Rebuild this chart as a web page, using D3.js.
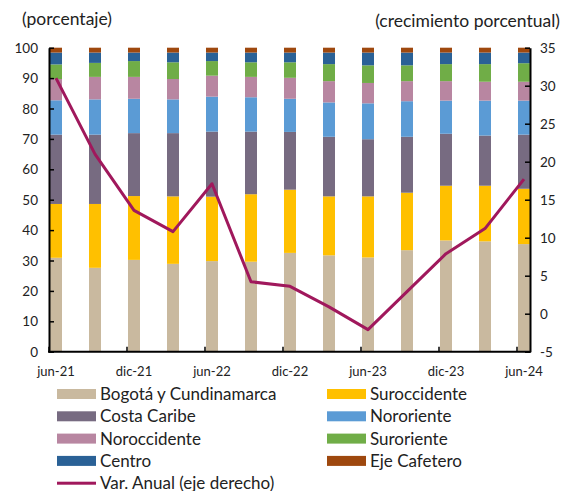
<!DOCTYPE html>
<html>
<head>
<meta charset="utf-8">
<script src="https://cdn.jsdelivr.net/npm/d3@7"></script>
<style>
  body { margin: 0; background: #fff; }
  text { font-family: Lato, "Open Sans", sans-serif; fill: #222; }
</style>
</head>
<body>
<div id="chart"></div>
<script>
var periodos = ["jun-21","sep-21","dic-21","mar-22","jun-22","sep-22","dic-22","mar-23","jun-23","sep-23","dic-23","mar-24","jun-24"];
var etiquetas = ["jun-21","","dic-21","","jun-22","","dic-22","","jun-23","","dic-23","","jun-24"];

var bogota       = [30.9, 27.6, 30.2, 28.9, 29.8, 29.6, 32.5, 31.7, 31.0, 33.4, 36.6, 36.3, 35.4];
var suroccidente = [17.7, 21.0, 21.0, 22.2, 21.2, 22.2, 20.8, 19.4, 20.1, 18.9, 18.0, 18.3, 18.2];
var costaCaribe  = [22.8, 22.8, 20.7, 20.8, 21.4, 20.6, 19.0, 19.6, 18.8, 18.4, 17.1, 16.5, 17.8];
var nororiente   = [11.3, 11.6, 11.3, 11.1, 11.5, 11.3, 10.9, 11.3, 11.8, 11.7, 10.9, 11.5, 11.2];
var noroccidente = [7.0, 7.4, 7.2, 6.7, 6.9, 6.7, 6.9, 7.0, 6.7, 6.6, 6.4, 6.2, 6.2];
var suroriente   = [4.8, 4.6, 5.2, 5.5, 4.8, 4.8, 5.1, 5.6, 5.8, 5.2, 5.6, 5.8, 6.1];
var centro       = [3.9, 3.4, 2.8, 3.2, 2.8, 3.2, 3.2, 3.8, 4.2, 4.2, 3.8, 3.8, 3.5];
var ejeCafetero  = [1.6, 1.6, 1.6, 1.6, 1.6, 1.6, 1.6, 1.6, 1.6, 1.6, 1.6, 1.6, 1.6];
var varAnual     = [31.0, 21.0, 13.6, 10.8, 17.1, 4.2, 3.6, 0.9, -2.1, 2.9, 7.9, 11.2, 17.7];

var ticksIzq = [0,10,20,30,40,50,60,70,80,90,100];
var ticksDer = [-5,0,5,10,15,20,25,30,35];

var series = [
  {nombre:"Bogotá y Cundinamarca", valores:bogota, color:"#c9b99f"},
  {nombre:"Suroccidente", valores:suroccidente, color:"#ffc000"},
  {nombre:"Costa Caribe", valores:costaCaribe, color:"#776b81"},
  {nombre:"Nororiente", valores:nororiente, color:"#5b9bd5"},
  {nombre:"Noroccidente", valores:noroccidente, color:"#b886a1"},
  {nombre:"Suroriente", valores:suroriente, color:"#70ad47"},
  {nombre:"Centro", valores:centro, color:"#2a6196"},
  {nombre:"Eje Cafetero", valores:ejeCafetero, color:"#9e480e"}
];
var colorLinea = "#a0185c";

var width = 564, height = 491;
var mLeft = 49, mRight = 530, mTop = 47.7, mBottom = 351.7;
var barW = 12;

var svg = d3.select("#chart").append("svg")
  .attr("width", width).attr("height", height);

var x = d3.scalePoint().domain(periodos).range([mLeft + 7, mRight - 6]);
var yL = d3.scaleLinear().domain([0,100]).range([mBottom, mTop]);
var yR = d3.scaleLinear().domain([-5,35]).range([mBottom, mTop]);

// tabla para el stack
var tabla = periodos.map(function(p,i){
  var fila = {periodo:p};
  series.forEach(function(s){ fila[s.nombre] = s.valores[i]; });
  return fila;
});
var stack = d3.stack().keys(series.map(function(s){return s.nombre;}))(tabla);

svg.append("g").selectAll("g")
  .data(stack).enter().append("g")
  .attr("fill", function(d,i){ return series[i].color; })
  .selectAll("rect")
  .data(function(d){ return d; })
  .enter().append("rect")
  .attr("x", function(d){ return x(d.data.periodo) - barW/2; })
  .attr("width", barW)
  .attr("y", function(d){ return yL(d[1]); })
  .attr("height", function(d){ return yL(d[0]) - yL(d[1]); });

// linea variacion anual
var linea = d3.line()
  .x(function(d,i){ return x(periodos[i]); })
  .y(function(d){ return yR(d); });

svg.append("path")
  .datum(varAnual)
  .attr("d", linea)
  .attr("fill", "none")
  .attr("stroke", colorLinea)
  .attr("stroke-width", 3)
  .attr("stroke-linejoin", "round");

// ejes
var ejeIzq = svg.append("g")
  .attr("transform", "translate(" + mLeft + ",0)")
  .call(d3.axisRight(yL).tickValues(ticksIzq).tickSize(5).tickSizeOuter(0).tickFormat(""));
var ejeDer = svg.append("g")
  .attr("transform", "translate(" + mRight + ",0)")
  .call(d3.axisLeft(yR).tickValues(ticksDer).tickSize(5).tickSizeOuter(0).tickFormat(""));
[ejeIzq, ejeDer].forEach(function(e){
  e.select(".domain").attr("stroke", "#000").attr("stroke-width", 2);
  e.selectAll(".tick line").attr("stroke", "#000").attr("stroke-width", 1.5);
});

svg.selectAll(".lblIzq")
  .data(ticksIzq).enter().append("text")
  .attr("x", 38).attr("y", function(d){ return yL(d) + 5; })
  .attr("text-anchor", "end").attr("font-size", 13.5)
  .text(function(d){ return d; });

svg.selectAll(".lblDer")
  .data(ticksDer).enter().append("text")
  .attr("x", 540).attr("y", function(d){ return yR(d) + 5; })
  .attr("text-anchor", "start").attr("font-size", 13.5)
  .text(function(d){ return d; });

// eje x
svg.append("line")
  .attr("x1", mLeft - 1).attr("x2", mRight + 1)
  .attr("y1", mBottom).attr("y2", mBottom)
  .attr("stroke", "#000").attr("stroke-width", 2);

svg.selectAll(".tickX")
  .data(periodos.filter(function(p,i){ return i % 2 === 0; }))
  .enter().append("line")
  .attr("x1", function(d){ return x(d) - 7; })
  .attr("x2", function(d){ return x(d) - 7; })
  .attr("y1", mBottom).attr("y2", mBottom - 5)
  .attr("stroke", "#000").attr("stroke-width", 1.5);

svg.selectAll(".lblX")
  .data(periodos).enter().append("text")
  .attr("x", function(d){ return x(d); })
  .attr("y", 376)
  .attr("text-anchor", "middle").attr("font-size", 13)
  .text(function(d,i){ return etiquetas[i]; });

// titulos de ejes
svg.append("text").attr("x", 22).attr("y", 25)
  .attr("font-size", 17.5).text("(porcentaje)");
svg.append("text").attr("x", 560).attr("y", 27)
  .attr("text-anchor", "end").attr("font-size", 17.5)
  .text("(crecimiento porcentual)");

// leyenda
var itemsLeyenda = series.map(function(s){ return {nombre:s.nombre, color:s.color, tipo:"barra"}; });
itemsLeyenda.push({nombre:"Var. Anual (eje derecho)", color:colorLinea, tipo:"linea"});

var leyenda = svg.append("g").selectAll("g")
  .data(itemsLeyenda).enter().append("g")
  .attr("transform", function(d,i){
    var col = d.tipo === "linea" ? 0 : i % 2;
    var fila = Math.floor(i / 2);
    return "translate(" + (col === 0 ? 57 : 327) + "," + (394 + fila * 22.3) + ")";
  });

leyenda.append("rect")
  .attr("x", 0).attr("y", function(d){ return d.tipo === "linea" ? -1.5 : -5; })
  .attr("width", 39)
  .attr("height", function(d){ return d.tipo === "linea" ? 3 : 10; })
  .attr("fill", function(d){ return d.color; });

leyenda.append("text")
  .attr("x", 43).attr("y", 6)
  .attr("font-size", 17)
  .text(function(d){ return d.nombre; });
</script>
</body>
</html>
